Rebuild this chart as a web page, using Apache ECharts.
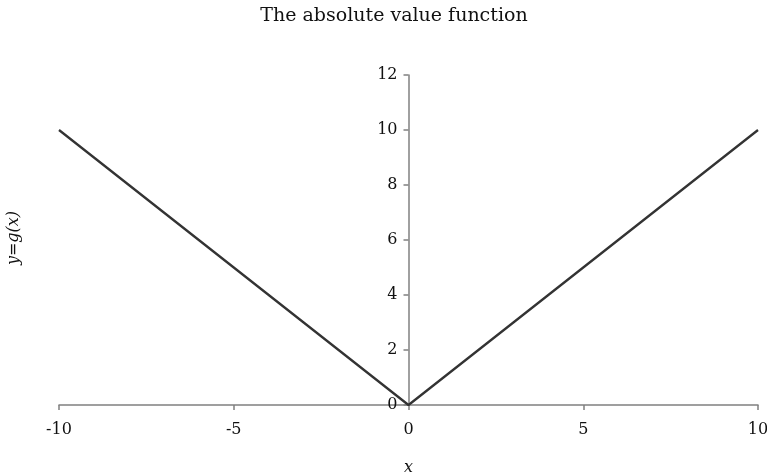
<!DOCTYPE html>
<html><head><meta charset="utf-8">
<script src="https://cdn.jsdelivr.net/npm/echarts@6/dist/echarts.min.js"></script>
<style>html,body{margin:0;padding:0;background:#fff}#c{width:767px;height:475px}</style>
</head><body><div id="c"></div>
<script>
const xValues = [-10,-9,-8,-7,-6,-5,-4,-3,-2,-1,0,1,2,3,4,5,6,7,8,9,10];
const yValues = [10,9,8,7,6,5,4,3,2,1,0,1,2,3,4,5,6,7,8,9,10];
const titleText = 'The absolute value function';
const xName = 'x';
const yName = 'y=g(x)';
const FONT = 'DejaVu Serif';
const GRID_L = 59, GRID_R = 9;
const chart = echarts.init(document.getElementById('c'), null, {renderer:'canvas'});
const plotW = 767 - GRID_L - GRID_R;
chart.setOption({
  animation:false,
  title:{text:titleText,left:389,top:2,textAlign:'center',textStyle:{fontFamily:FONT,fontSize:19,fontWeight:'normal',color:'#111'}},
  grid:{left:GRID_L,right:GRID_R,top:75,bottom:70,containLabel:false,outerBoundsMode:'none'},
  xAxis:{type:'value',min:-10,max:10,interval:5,
    name:xName,nameLocation:'middle',nameGap:55,
    nameTextStyle:{fontFamily:FONT,fontStyle:'italic',fontSize:16,color:'#111'},
    axisLine:{onZero:true,lineStyle:{color:'#808080',width:1.5}},
    axisTick:{show:true,length:5,inside:false,lineStyle:{color:'#808080',width:1.5}},
    axisLabel:{fontFamily:FONT,fontSize:16,color:'#111',margin:17},
    splitLine:{show:false}},
  yAxis:{type:'value',min:0,max:12,interval:2,position:'left',offset:-(plotW/2),
    axisLine:{show:true,onZero:false,lineStyle:{color:'#808080',width:1.5}},
    axisTick:{show:true,length:5,inside:false,lineStyle:{color:'#808080',width:1.5}},
    axisLabel:{fontFamily:FONT,fontSize:16,color:'#111',margin:11},
    splitLine:{show:false}},
  graphic:[{type:'text',x:14,y:238,rotation:Math.PI/2,
    style:{text:yName,fontFamily:FONT,fontStyle:'italic',fontSize:16,fill:'#111',align:'center',verticalAlign:'middle'}}],
  series:[{type:'line',data:xValues.map((x,i)=>[x,yValues[i]]),showSymbol:false,
    lineStyle:{color:'#333',width:2.3},clip:false,z:3}]
});
</script></body></html>
